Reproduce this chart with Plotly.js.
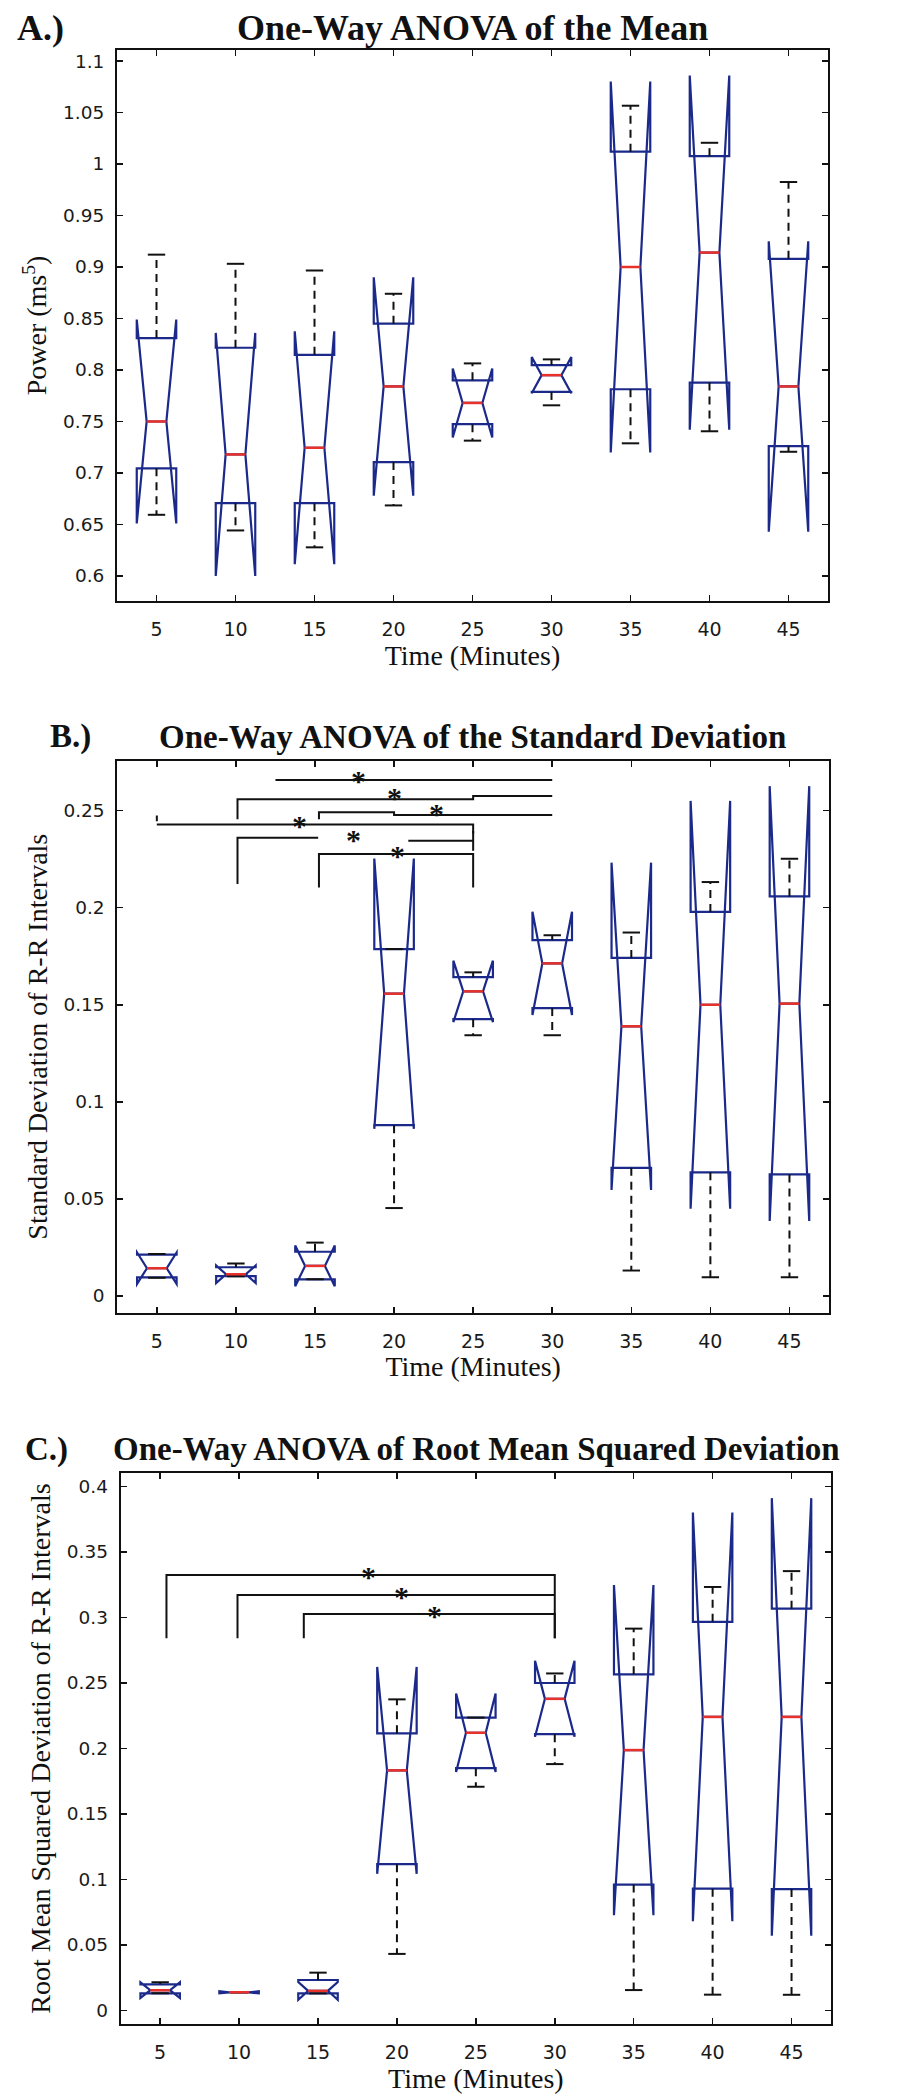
<!DOCTYPE html>
<html>
<head>
<meta charset="utf-8">
<script src="https://cdn.plot.ly/plotly-3.0.1.min.js"></script>
<style>
  html, body { margin: 0; padding: 0; background: #ffffff; }
  #chart { width: 916px; height: 2100px; }
</style>
</head>
<body>
<div id="chart"></div>
<script>
// Recording time of each group (minutes) and the tick labels of the x axis
const minutes = [5, 10, 15, 20, 25, 30, 35, 40, 45];
const timeLabels = ['5', '10', '15', '20', '25', '30', '35', '40', '45'];

// A) Mean power: box statistics per time group
const meanMedian = [0.750, 0.718, 0.7245, 0.784, 0.768, 0.795, 0.900, 0.914, 0.784];
const meanQ1     = [0.7045, 0.6707, 0.6707, 0.7106, 0.7474, 0.7787, 0.7813, 0.7878, 0.726];
const meanQ3     = [0.831, 0.8216, 0.8147, 0.845, 0.790, 0.8047, 1.012, 1.0076, 0.9079];
const meanNotch  = [0.099, 0.118, 0.113, 0.106, 0.0335, 0.0175, 0.180, 0.172, 0.141];
const meanLow    = [0.6594, 0.6442, 0.6278, 0.6685, 0.7314, 0.7657, 0.7288, 0.7405, 0.7206];
const meanHigh   = [0.912, 0.9031, 0.8966, 0.874, 0.8064, 0.8103, 1.0566, 1.0206, 0.9825];

// B) Standard deviation of R-R intervals
const sdMedian = [0.0143, 0.0112, 0.0155, 0.1557, 0.1569, 0.1713, 0.1389, 0.150, 0.1506];
const sdQ1     = [0.0096, 0.0102, 0.0086, 0.088, 0.1426, 0.1483, 0.066, 0.0637, 0.0626];
const sdQ3     = [0.0213, 0.0148, 0.0228, 0.1787, 0.1642, 0.1833, 0.1741, 0.1978, 0.2058];
const sdNotch  = [0.0081, 0.0045, 0.0105, 0.0696, 0.0158, 0.0266, 0.0843, 0.105, 0.112];
const sdLow    = [0.0094, 0.0102, 0.0086, 0.0453, 0.1343, 0.1343, 0.0131, 0.0097, 0.0097];
const sdHigh   = [0.0216, 0.0168, 0.0275, 0.1787, 0.1667, 0.1858, 0.1872, 0.2132, 0.2252];

// C) Root mean squared deviation of R-R intervals
const rmsMedian = [0.0155, 0.0139, 0.015, 0.1833, 0.212, 0.2379, 0.1988, 0.2241, 0.2241];
const rmsQ1     = [0.0131, 0.0139, 0.0131, 0.1117, 0.185, 0.2109, 0.0961, 0.093, 0.0927];
const rmsQ3     = [0.020, 0.0139, 0.0233, 0.2116, 0.2236, 0.250, 0.2566, 0.2967, 0.3067];
const rmsNotch  = [0.006, 0.0008, 0.0068, 0.079, 0.030, 0.029, 0.126, 0.156, 0.167];
const rmsLow    = [0.0131, 0.0139, 0.0131, 0.0432, 0.1708, 0.1881, 0.0156, 0.0121, 0.012];
const rmsHigh   = [0.0215, 0.0139, 0.0289, 0.2375, 0.2236, 0.2573, 0.2915, 0.3233, 0.3354];

// Significance brackets (minutes, value), separate polylines split by null
const sdBracketX = [12.5, 30, null,
                    10.1, 10.1, 25, 25, 30, null,
                    15.25, 15.25, 20, 20, 30, null,
                    5, 25, 25, null,
                    5, 5, null,
                    10.1, 10.1, 15.2, null,
                    20.9, 25, null,
                    25, 25, null,
                    15.25, 15.25, 25, 25];
const sdBracketY = [0.2657, 0.2657, null,
                    0.2455, 0.2559, 0.2559, 0.2575, 0.2575, null,
                    0.2455, 0.2491, 0.2491, 0.2477, 0.2477, null,
                    0.2429, 0.2429, 0.2382, null,
                    0.2445, 0.2475, null,
                    0.2122, 0.236, 0.236, null,
                    0.2345, 0.2345, null,
                    0.2395, 0.2293, null,
                    0.2104, 0.2276, 0.2276, 0.2104];
const sdStarX = [17.75, 20.05, 22.7, 14.0, 17.45, 20.2];
const sdStarY = [0.2692, 0.2606, 0.252, 0.246, 0.2388, 0.2305];

const rmsBracketX = [5.4, 5.4, 30, 30, null,
                     9.9, 9.9, 30, null,
                     14.1, 14.1, 30, 30];
const rmsBracketY = [0.2841, 0.3324, 0.3324, 0.2841, null,
                     0.2841, 0.3172, 0.3172, null,
                     0.2841, 0.3027, 0.3027, 0.2841];
const rmsStarX = [18.2, 20.3, 22.4];
const rmsStarY = [0.3363, 0.3211, 0.3066];

// ---- styling ----
const NAVY = '#1b2a8a';
const RED = '#e8312a';
const INK = '#111111';
const SERIF = "'Liberation Serif', 'Times New Roman', serif";
const SANS = "'DejaVu Sans', 'Liberation Sans', Arial, sans-serif";
const BOX_WIDTH = 2.5;       // minutes
const HALF_INNER = 0.625;    // half width of the notch waist / median line
const CAP_HALF = 0.55;

const W = 916, H = 2100;
const fx = px => px / W;
const fy = py => 1 - py / H;

function panelTraces(med, q1, q3, notch, lo, hi, xa, ya) {
  const wx = [], wy = [], cx = [], cy = [], mx = [], my = [];
  minutes.forEach((m, i) => {
    wx.push(m, m, null, m, m, null);
    wy.push(q3[i], hi[i], null, q1[i], lo[i], null);
    cx.push(m - CAP_HALF, m + CAP_HALF, null, m - CAP_HALF, m + CAP_HALF, null);
    cy.push(hi[i], hi[i], null, lo[i], lo[i], null);
    mx.push(m - HALF_INNER, m + HALF_INNER, null);
    my.push(med[i], med[i], null);
  });
  return [
    {
      type: 'box', x: minutes, q1: q1, median: med, q3: q3,
      lowerfence: q1, upperfence: q3, notched: true, notchspan: notch,
      notchwidth: 0.25, width: BOX_WIDTH, whiskerwidth: 0, showwhiskers: false,
      boxpoints: false, fillcolor: 'rgba(0,0,0,0)',
      line: { color: NAVY, width: 2.2 },
      xaxis: xa, yaxis: ya, hoverinfo: 'skip', showlegend: false
    },
    {
      type: 'scatter', mode: 'lines', x: wx, y: wy,
      line: { color: INK, width: 2, dash: '8px,6px' },
      xaxis: xa, yaxis: ya, hoverinfo: 'skip', showlegend: false
    },
    {
      type: 'scatter', mode: 'lines', x: cx, y: cy,
      line: { color: INK, width: 2 },
      xaxis: xa, yaxis: ya, hoverinfo: 'skip', showlegend: false
    },
    {
      type: 'scatter', mode: 'lines', x: mx, y: my,
      line: { color: RED, width: 2.5 },
      xaxis: xa, yaxis: ya, hoverinfo: 'skip', showlegend: false
    }
  ];
}

function bracketTrace(bx, by, xa, ya) {
  return {
    type: 'scatter', mode: 'lines', x: bx, y: by,
    line: { color: INK, width: 2 }, connectgaps: false,
    xaxis: xa, yaxis: ya, hoverinfo: 'skip', showlegend: false
  };
}

const traces = [].concat(
  panelTraces(meanMedian, meanQ1, meanQ3, meanNotch, meanLow, meanHigh, 'x', 'y'),
  panelTraces(sdMedian, sdQ1, sdQ3, sdNotch, sdLow, sdHigh, 'x2', 'y2'),
  panelTraces(rmsMedian, rmsQ1, rmsQ3, rmsNotch, rmsLow, rmsHigh, 'x3', 'y3'),
  [bracketTrace(sdBracketX, sdBracketY, 'x2', 'y2'),
   bracketTrace(rmsBracketX, rmsBracketY, 'x3', 'y3')]
);

function xAxis(domain, anchor) {
  return {
    domain: domain, anchor: anchor, range: [2.5, 47.5],
    tickmode: 'array', tickvals: minutes, ticktext: timeLabels,
    ticks: 'inside', ticklen: 6, tickwidth: 1.5, tickcolor: INK,
    showline: true, linecolor: INK, linewidth: 2, mirror: 'ticks',
    showgrid: false, zeroline: false, ticklabelstandoff: 10,
    tickfont: { family: SANS, size: 19, color: '#1a1a1a' },
    title: { text: 'Time (Minutes)', font: { family: SERIF, size: 28, color: INK }, standoff: 4 }
  };
}

function yAxis(domain, anchor, range, title) {
  return {
    domain: domain, anchor: anchor, range: range,
    tick0: 0, dtick: 0.05,
    ticks: 'inside', ticklen: 6, tickwidth: 1.5, tickcolor: INK,
    showline: true, linecolor: INK, linewidth: 2, mirror: 'ticks',
    showgrid: false, zeroline: false, ticklabelstandoff: 7,
    tickfont: { family: SANS, size: 18.5, color: '#1a1a1a' },
    title: { text: title, font: { family: SERIF, size: 28, color: INK }, standoff: 8 }
  };
}

function header(label, labelX, title, titleX, py, size) {
  return [
    { text: '<b>' + label + '</b>', xref: 'paper', yref: 'paper',
      x: fx(labelX), y: fy(py), xanchor: 'left', yanchor: 'middle', showarrow: false,
      font: { family: SERIF, size: size, color: INK } },
    { text: '<b>' + title + '</b>', xref: 'paper', yref: 'paper',
      x: fx(titleX), y: fy(py), xanchor: 'center', yanchor: 'middle', showarrow: false,
      font: { family: SERIF, size: size, color: INK } }
  ];
}

function stars(sx, sy, xa, ya) {
  return sx.map((x, i) => ({
    text: '<b>*</b>', x: x, y: sy[i], xref: xa, yref: ya, showarrow: false,
    xanchor: 'center', yanchor: 'middle', yshift: -7,
    font: { family: SERIF, size: 30, color: INK }
  }));
}

const layout = {
  width: W, height: H,
  margin: { l: 0, r: 0, t: 0, b: 0 },
  paper_bgcolor: '#ffffff', plot_bgcolor: '#ffffff',
  showlegend: false,
  xaxis:  xAxis([fx(117), fx(828)], 'y'),
  yaxis:  yAxis([fy(601), fy(50)], 'x', [0.5757, 1.1107], 'Power (ms<sup>5</sup>)'),
  xaxis2: xAxis([fx(117.3), fx(829)], 'y2'),
  yaxis2: yAxis([fy(1312.7), fy(760.7)], 'x2', [-0.0086, 0.2757], 'Standard Deviation of R-R Intervals'),
  xaxis3: xAxis([fx(120.7), fx(831)], 'y3'),
  yaxis3: yAxis([fy(2024), fy(1473)], 'x3', [-0.0103, 0.4103], 'Root Mean Squared Deviation of R-R Intervals'),
  annotations: [].concat(
    header('A.)', 15, 'One-Way ANOVA of the Mean', 473, 28, 36),
    header('B.)', 48, 'One-Way ANOVA of the Standard Deviation', 473, 737, 33),
    header('C.)', 23, 'One-Way ANOVA of Root Mean Squared Deviation', 476, 1449, 33),
    stars(sdStarX, sdStarY, 'x2', 'y2'),
    stars(rmsStarX, rmsStarY, 'x3', 'y3')
  )
};

Plotly.newPlot('chart', traces, layout, { staticPlot: true, displayModeBar: false });
</script>
</body>
</html>
